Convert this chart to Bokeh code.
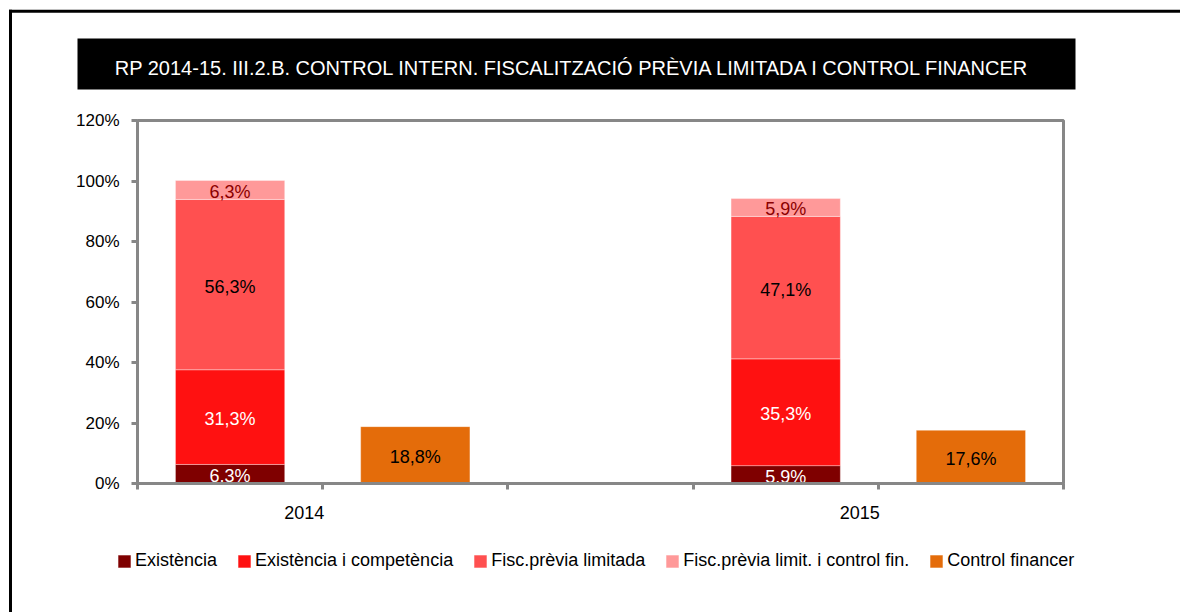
from bokeh.plotting import figure
from bokeh.models import (Range1d, FixedTicker, Legend, LegendItem, ColumnDataSource)
from bokeh.core.properties import value
from bokeh.embed import file_html
from bokeh.resources import INLINE

# ---------------- data ----------------
title_text = "RP 2014-15. III.2.B. CONTROL INTERN. FISCALITZACIÓ PRÈVIA LIMITADA I CONTROL FINANCER"
years = ["2014", "2015"]
series_names = ["Existència", "Existència i competència", "Fisc.prèvia limitada",
                "Fisc.prèvia limit. i control fin.", "Control financer"]
existencia = [6.3, 5.9]
existencia_competencia = [31.3, 35.3]
fisc_previa_limitada = [56.3, 47.1]
fisc_previa_limit_cf = [6.3, 5.9]
control_financer = [18.8, 17.6]
y_ticks = [0, 20, 40, 60, 80, 100, 120]
y_tick_labels = ["0%", "20%", "40%", "60%", "80%", "100%", "120%"]

# ---------------- style ----------------
colors = ["#7F0000", "#FF1111", "#FF5050", "#FF9999", "#E46C0A"]
label_colors = ["white", "white", "black", "#8B0000", "black"]
FONT = "Liberation Sans"
AXIS_GRAY = "#878787"

# ---------------- geometry (page pixels) ----------------
W, H = 1180, 612
PL, PR, PT, PB = 137, 1063, 120, 483     # plot area box
N_SLOTS = 5                               # bar slots along the category axis
Y_MAX = y_ticks[-1]
sx = (PR - PL) / N_SLOTS
sy = (PB - PT) / Y_MAX

def X(px):
    return (px - PL) / sx

def Y(py):
    return (PB - py) / sy

def fmt(v):
    return ("%.1f" % v).replace(".", ",") + "%"

p = figure(frame_width=W, frame_height=H, output_backend="svg", toolbar_location=None,
           title=None, x_range=Range1d(X(0), X(W)), y_range=Range1d(Y(H), Y(0)),
           min_border=0, min_border_left=0, min_border_right=0,
           min_border_top=0, min_border_bottom=0)
p.background_fill_color = "white"
p.border_fill_color = "white"
p.outline_line_color = None
p.xgrid.visible = False
p.ygrid.visible = False

# outer frame (left and top lines) and title box
p.segment(x0=[X(10), X(8.5)], y0=[Y(9.3), Y(10.8)], x1=[X(10), X(W + 20)],
          y1=[Y(H + 20), Y(10.8)], line_color="black", line_width=3)
p.quad(left=[X(77)], right=[X(1075)], top=[Y(38)], bottom=[Y(89)],
       fill_color="black", line_color=None)
p.text(x=[X(572.5)], y=[Y(67)], text=[title_text], text_align="center",
       text_baseline="middle", text_color="white", text_font=value(FONT),
       text_font_size="20px")

# plot-area box
p.quad(left=[0], right=[N_SLOTS], bottom=[0], top=[Y_MAX], fill_alpha=0,
       line_color=AXIS_GRAY, line_width=3)

# bars
stack_keys = ["s0", "s1", "s2", "s3"]
n = len(years)
stack_x = [3 * i + 0.5 for i in range(n)]
single_x = [3 * i + 1.5 for i in range(n)]

src = ColumnDataSource(dict(x=stack_x, s0=existencia, s1=existencia_competencia,
                            s2=fisc_previa_limitada, s3=fisc_previa_limit_cf))
stack_r = p.vbar_stack(stack_keys, x="x", width=0.59, source=src,
                       fill_color=colors[:4], line_color="white", line_alpha=0.35,
                       line_width=1)
src2 = ColumnDataSource(dict(x=single_x, top=control_financer))
single_r = p.vbar(x="x", top="top", width=0.59, source=src2,
                  fill_color=colors[4], line_color="white", line_alpha=0.35, line_width=1)

# data labels
lx, ly, lt, lc = [], [], [], []
series_vals = [existencia, existencia_competencia, fisc_previa_limitada, fisc_previa_limit_cf]
for i in range(n):
    base = 0.0
    for k, vals in enumerate(series_vals):
        v = vals[i]
        lx.append(stack_x[i]); ly.append(base + v / 2); lt.append(fmt(v)); lc.append(label_colors[k])
        base += v
    v = control_financer[i]
    lx.append(single_x[i]); ly.append(v / 2); lt.append(fmt(v)); lc.append(label_colors[4])
lsrc = ColumnDataSource(dict(x=lx, y=ly, t=lt, c=lc))
p.text(x="x", y="y", text="t", text_color="c", source=lsrc, text_align="center",
       text_baseline="middle", text_font=value(FONT), text_font_size="18px", y_offset=2)

# axes (drawn at the data origin)
year_pos = [round(3 * i + 0.9, 3) for i in range(n)]
p.xaxis.fixed_location = 0
p.xaxis.bounds = (0, N_SLOTS)
p.xaxis.ticker = FixedTicker(ticks=year_pos, minor_ticks=list(range(N_SLOTS + 1)))
p.xaxis.major_label_overrides = {pos: yr for pos, yr in zip(year_pos, years)}
p.xaxis.major_tick_line_color = None
p.xaxis.minor_tick_line_color = AXIS_GRAY
p.xaxis.minor_tick_line_width = 3
p.xaxis.minor_tick_out = 6
p.xaxis.minor_tick_in = 0
p.xaxis.major_label_standoff = 16
p.xaxis.major_label_text_font_size = "18px"

p.yaxis.fixed_location = 0
p.yaxis.bounds = (0, Y_MAX)
p.yaxis.ticker = FixedTicker(ticks=y_ticks, minor_ticks=[])
p.yaxis.major_label_overrides = {t: l for t, l in zip(y_ticks, y_tick_labels)}
p.yaxis.major_tick_line_color = AXIS_GRAY
p.yaxis.major_tick_line_width = 3
p.yaxis.major_tick_out = 6
p.yaxis.major_tick_in = 0
p.yaxis.minor_tick_line_color = None
p.yaxis.major_label_standoff = 12
p.yaxis.major_label_text_font_size = "17px"

for ax in (p.xaxis, p.yaxis):
    ax.axis_line_color = AXIS_GRAY
    ax.axis_line_width = 3
    ax.major_label_text_font = FONT
    ax.major_label_text_color = "black"

# legend (inside the frame, below the plot area)
items = [LegendItem(label=series_names[k], renderers=[stack_r[k]]) for k in range(4)]
items.append(LegendItem(label=series_names[4], renderers=[single_r]))
legend = Legend(items=items, orientation="horizontal", location=(116, H - 571),
                glyph_width=16, glyph_height=16, label_standoff=3, spacing=19,
                padding=0, margin=0, border_line_color=None, background_fill_alpha=0,
                label_text_font=FONT, label_text_font_size="18px",
                label_text_color="black")
if "nrows" in Legend.properties():
    legend.nrows = 1
p.add_layout(legend)

open("out.html", "w").write(file_html(p, INLINE))
